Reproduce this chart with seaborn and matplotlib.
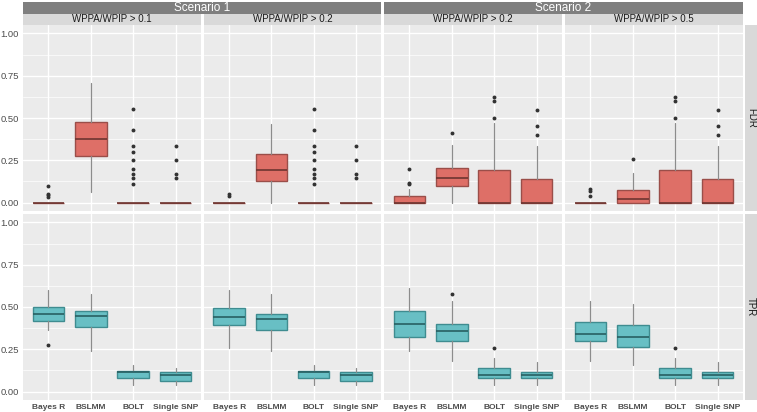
import numpy as np
import matplotlib
matplotlib.use("Agg")
import matplotlib.pyplot as plt
import seaborn as sns

# categories / facets
methods = ["Bayes R", "BSLMM", "BOLT", "Single SNP"]
scenarios = ["Scenario 1", "Scenario 2"]
thresholds = ["WPPA/WPIP > 0.1", "WPPA/WPIP > 0.2", "WPPA/WPIP > 0.2", "WPPA/WPIP > 0.5"]
metrics = ["FDR", "TPR"]

# FDR box stats, one row per panel, one value per method
fdr_lo = [[0, 0.06, 0, 0], [0, 0, 0, 0], [0, 0, 0, 0], [0, 0, 0, 0]]
fdr_q1 = [[0, 0.275, 0, 0], [0, 0.125, 0, 0], [0, 0.096, 0, 0], [0, 0, 0, 0]]
fdr_med = [[0, 0.375, 0, 0], [0, 0.19, 0, 0], [0, 0.144, 0, 0], [0, 0.02, 0, 0]]
fdr_q3 = [[0, 0.478, 0, 0], [0, 0.285, 0, 0], [0.04, 0.205, 0.19, 0.142], [0, 0.073, 0.19, 0.142]]
fdr_hi = [[0, 0.705, 0, 0], [0, 0.466, 0, 0], [0.079, 0.339, 0.47, 0.335], [0, 0.173, 0.47, 0.335]]
fdr_out = [
    [[0.035, 0.045, 0.05, 0.095], [], [0.111, 0.143, 0.167, 0.2, 0.25, 0.3, 0.333, 0.429, 0.556], [0.143, 0.167, 0.25, 0.333]],
    [[0.04, 0.05], [], [0.111, 0.143, 0.167, 0.2, 0.25, 0.3, 0.333, 0.429, 0.556], [0.143, 0.167, 0.25, 0.333]],
    [[0.108, 0.118, 0.2], [0.41], [0.5, 0.6, 0.625], [0.4, 0.455, 0.545]],
    [[0.04, 0.07, 0.08], [0.26], [0.5, 0.6, 0.625], [0.4, 0.455, 0.545]],
]

# TPR box stats
tpr_lo = [[0.365, 0.238, 0.041, 0.041], [0.258, 0.238, 0.041, 0.041], [0.238, 0.18, 0.041, 0.041], [0.18, 0.158, 0.041, 0.041]]
tpr_q1 = [[0.418, 0.379, 0.078, 0.0625], [0.396, 0.363, 0.078, 0.0625], [0.32, 0.297, 0.078, 0.078], [0.297, 0.264, 0.078, 0.078]]
tpr_med = [[0.459, 0.449, 0.117, 0.1], [0.44, 0.428, 0.117, 0.1], [0.398, 0.359, 0.1, 0.1], [0.34, 0.32, 0.1, 0.1]]
tpr_q3 = [[0.5, 0.477, 0.119, 0.117], [0.492, 0.457, 0.119, 0.117], [0.479, 0.398, 0.14, 0.117], [0.414, 0.393, 0.14, 0.117]]
tpr_hi = [[0.6, 0.576, 0.158, 0.137], [0.6, 0.576, 0.158, 0.137], [0.615, 0.537, 0.197, 0.176], [0.537, 0.518, 0.197, 0.176]]
tpr_out = [[[0.276], [], [], []], [[], [], [], []], [[], [0.576], [0.258], []], [[], [], [0.258], []]]

sns.set_theme(style="darkgrid", rc={
    "axes.facecolor": "#EBEBEB",
    "grid.color": "white",
})
plt.rcParams["font.family"] = ["Liberation Sans", "DejaVu Sans"]

W, H = 757, 412
fig = plt.figure(figsize=(W / 100, H / 100), dpi=100)


def px_axes(x0, y0, x1, y1):
    # pixel box (top-left origin) -> figure axes
    return fig.add_axes([x0 / W, 1 - y1 / H, (x1 - x0) / W, (y1 - y0) / H])


def strip(x0, y0, x1, y1, text, fc, tc, size, rot=0):
    ax = px_axes(x0, y0, x1, y1)
    ax.set_facecolor(fc)
    ax.grid(False)
    ax.set_xticks([])
    ax.set_yticks([])
    for s in ax.spines.values():
        s.set_visible(False)
    ax.text(0.5, 0.5, text, ha="center", va="center", color=tc, fontsize=size,
            rotation=rot, transform=ax.transAxes)


col_x = [(23, 201), (204, 381), (384, 562), (565, 743)]
row_y = [(25, 211), (214, 400)]
fills = {"FDR": ("#DE6F67", "#9A4E49", "#6E3530"), "TPR": ("#68BFC4", "#3F8C90", "#285F62")}
stats_by_metric = {
    "FDR": (fdr_lo, fdr_q1, fdr_med, fdr_q3, fdr_hi, fdr_out),
    "TPR": (tpr_lo, tpr_q1, tpr_med, tpr_q3, tpr_hi, tpr_out),
}

for r, metric in enumerate(metrics):
    lo, q1, med, q3, hi, out = stats_by_metric[metric]
    fill, edge, medc = fills[metric]
    for c in range(4):
        ax = px_axes(col_x[c][0], row_y[r][0], col_x[c][1], row_y[r][1])
        stats = []
        for m in range(4):
            stats.append(dict(whislo=lo[c][m], q1=q1[c][m], med=med[c][m], q3=q3[c][m],
                              whishi=hi[c][m], fliers=out[c][m], label=methods[m]))
        ax.bxp(stats, positions=[1, 2, 3, 4], widths=0.75, patch_artist=True,
               showcaps=False, zorder=3,
               boxprops=dict(facecolor=fill, edgecolor=edge, linewidth=1.0),
               medianprops=dict(color=medc, linewidth=1.2),
               whiskerprops=dict(color="#8C8C8C", linewidth=0.9),
               flierprops=dict(marker="o", markersize=1.8, markerfacecolor="#333333",
                               markeredgecolor="#333333"))
        ax.set_xlim(0.4, 4.6)
        ax.set_ylim(-0.05, 1.05)
        ax.set_yticks([0, 0.25, 0.5, 0.75, 1.0])
        ax.set_yticks([0.125, 0.375, 0.625, 0.875], minor=True)
        ax.grid(True, which="major", color="white", linewidth=1.0)
        ax.grid(True, which="minor", axis="y", color="white", linewidth=0.5)
        ax.set_axisbelow(True)
        for s in ax.spines.values():
            s.set_visible(False)
        ax.tick_params(axis="both", which="major", length=2, color="#333333", pad=0.8)
        ax.tick_params(axis="y", which="minor", length=0)
        if c == 0:
            ax.set_yticklabels(["0.00", "0.25", "0.50", "0.75", "1.00"], fontsize=6.8, color="#4D4D4D")
        else:
            ax.tick_params(axis="y", length=0, labelleft=False)
        if r == 1:
            ax.set_xticks([1, 2, 3, 4])
            ax.set_xticklabels(methods, fontsize=6, fontweight="bold", color="#4D4D4D")
        else:
            ax.tick_params(axis="x", length=0, labelbottom=False)
        ax.set_xlabel("")
        ax.set_ylabel("")

# facet strips
strip(23, 2, 381, 13.5, scenarios[0], "#7F7F7F", "white", 8.5)
strip(384, 2, 743, 13.5, scenarios[1], "#7F7F7F", "white", 8.5)
for c in range(4):
    strip(col_x[c][0], 14, col_x[c][1], 25, thresholds[c], "#D9D9D9", "#1A1A1A", 7)
for r, metric in enumerate(metrics):
    strip(745, row_y[r][0], 757, row_y[r][1], metric, "#D9D9D9", "#1A1A1A", 7, rot=-90)

fig.savefig("out.png", dpi=100)
